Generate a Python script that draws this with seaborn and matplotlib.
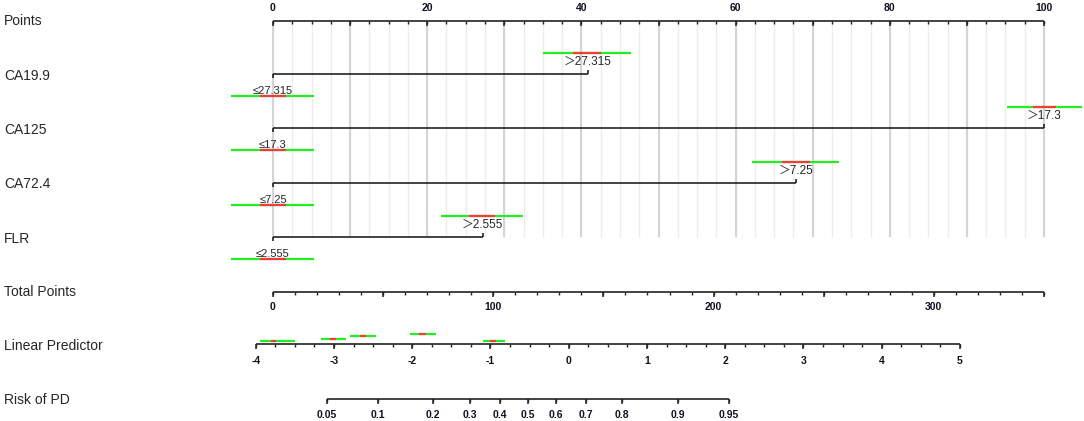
import numpy as np
import pandas as pd
import seaborn as sns; sns.set_style("white")
import matplotlib.pyplot as plt

plt.rcParams['font.family'] = ['Liberation Sans', 'Noto Sans CJK SC', 'DejaVu Sans']

# ---- data ----
point_labels = [0, 20, 40, 60, 80, 100]
variables = ['CA19.9', 'CA125', 'CA72.4', 'FLR']
low_labels = ['≤27.315', '≤17.3', '≤7.25', '≤2.555']
high_labels = ['＞27.315', '＞17.3', '＞7.25', '＞2.555']
low_points = [0, 0, 0, 0]
high_points = [40.8, 100, 67.8, 27.2]
high_green = [(35.0, 46.4), (95.2, 104.9), (62.1, 73.4), (21.8, 32.4)]
high_red = [(38.9, 42.5), (98.6, 101.5), (66.0, 69.6), (25.4, 28.8)]
low_green = [(-5.4, 5.3), (-5.4, 5.3), (-5.4, 5.3), (-5.4, 5.3)]
low_red = [(-1.7, 1.7), (-1.7, 1.7), (-1.7, 1.7), (-1.7, 1.7)]

total_max = 350
total_labels = [0, 100, 200, 300]

lp_labels = [-4, -3, -2, -1, 0, 1, 2, 3, 4, 5]
lp_green = [(-3.94, -3.50), (-3.16, -2.85), (-2.79, -2.46), (-2.03, -1.70), (-1.09, -0.82)]
lp_red = [(-3.81, -3.74), (-3.05, -2.97), (-2.67, -2.59), (-1.91, -1.82), (-1.00, -0.93)]

risk_labels = [0.05, 0.1, 0.2, 0.3, 0.4, 0.5, 0.6, 0.7, 0.8, 0.9, 0.95]

# ---- layout (pixels) ----
W, H = 1084, 421
GREEN = '#22ee22'
RED = '#f03c3c'
LINE = '#222222'

fig = plt.figure(figsize=(W / 100, H / 100), dpi=100)


def row_axes(v0, p0, v1, p1, scale='linear'):
    ax = fig.add_axes([0, 0, 1, 1], frameon=False)
    ax.set_ylim(H, 0)
    if scale == 'logit':
        f = lambda p: np.log(p / (1 - p))
        g = lambda z: 1 / (1 + np.exp(-z))
        k = (f(v1) - f(v0)) / (p1 - p0)
        ax.set_xscale('logit')
        ax.set_xlim(g(f(v0) - k * p0), g(f(v0) + k * (W - p0)))
    else:
        k = (v1 - v0) / (p1 - p0)
        ax.set_xlim(v0 - k * p0, v0 + k * (W - p0))
    ax.set_axis_off()
    return ax


def draw_axis(ax, y, lo, hi, minor, major, labels, lab_dy, fmt=str):
    ax.plot([lo, hi], [y, y], color=LINE, lw=1.2, solid_capstyle='butt')
    ax.vlines(minor, y, y + 3, color=LINE, lw=1.0)
    ax.vlines(major, y, y + 4.5, color=LINE, lw=1.1)
    for v in labels:
        ax.text(v, y + lab_dy, fmt(v), ha='center', va='center', fontsize=7.5,
                fontweight='bold', color='#111122')


# names on the left
name_ax = row_axes(0, 0, W, W)
row_names = ['Points'] + variables + ['Total Points', 'Linear Predictor', 'Risk of PD']
row_y = [21, 76, 130, 184, 239, 292, 346, 400]
for nm, yy in zip(row_names, row_y):
    name_ax.text(4, yy, nm, ha='left', va='center', fontsize=10)

# Points scale + grid
pax = row_axes(0, 273, 100, 1044)
grid_minor = np.arange(0, 100.1, 2.5)
grid_major = np.arange(0, 100.1, 10)
pax.vlines(grid_minor, 21, 237, color='#ededed', lw=1.0, zorder=0)
pax.vlines(grid_major, 21, 237, color='#d4d4d4', lw=1.5, zorder=0)
draw_axis(pax, 21, 0, 100, grid_minor, grid_major, point_labels, -13)

# variable rows
bracket_y = [74, 128, 183, 237]
for i, yb in enumerate(bracket_y):
    x0, x1 = low_points[i], high_points[i]
    pax.plot([x0, x1], [yb, yb], color=LINE, lw=1.2, solid_capstyle='butt')
    pax.vlines([x0], yb, yb + 4, color=LINE, lw=1.2)
    pax.vlines([x1], yb - 4, yb, color=LINE, lw=1.2)
    # upper level
    pax.plot(high_green[i], [yb - 21.5] * 2, color=GREEN, lw=1.6, solid_capstyle='butt')
    pax.plot(high_red[i], [yb - 21.5] * 2, color=RED, lw=1.6, solid_capstyle='butt')
    pax.text(x1, yb - 12, high_labels[i], ha='center', va='center', fontsize=8.5)
    # lower level
    pax.plot(low_green[i], [yb + 22] * 2, color=GREEN, lw=1.6, solid_capstyle='butt')
    pax.plot(low_red[i], [yb + 22] * 2, color=RED, lw=1.6, solid_capstyle='butt')
    pax.text(x0, yb + 17, low_labels[i], ha='center', va='center', fontsize=8)

# Total points
tax = row_axes(0, 273, total_max, 1044)
draw_axis(tax, 292, 0, total_max, np.arange(0, total_max + 1, 10),
          np.arange(0, total_max + 1, 50), total_labels, 15)

# Linear predictor
lax = row_axes(-4, 255.7, 5, 960)
draw_axis(lax, 344, lp_labels[0], lp_labels[-1], np.arange(-4, 5.01, 0.25),
          lp_labels, lp_labels, 17)
marker_y = [340.7, 338.7, 335.7, 334.3, 340.7]
for (g0, g1), (r0, r1), my in zip(lp_green, lp_red, marker_y):
    lax.plot([g0, g1], [my, my], color=GREEN, lw=1.6, solid_capstyle='butt')
    lax.plot([r0, r1], [my, my], color=RED, lw=1.6, solid_capstyle='butt')

# Risk
rax = row_axes(0.05, 327, 0.95, 728.7, scale='logit')
draw_axis(rax, 399, risk_labels[0], risk_labels[-1], risk_labels, risk_labels,
          risk_labels, 16, fmt=lambda v: ('%g' % v))

fig.savefig('out.png', dpi=100)
